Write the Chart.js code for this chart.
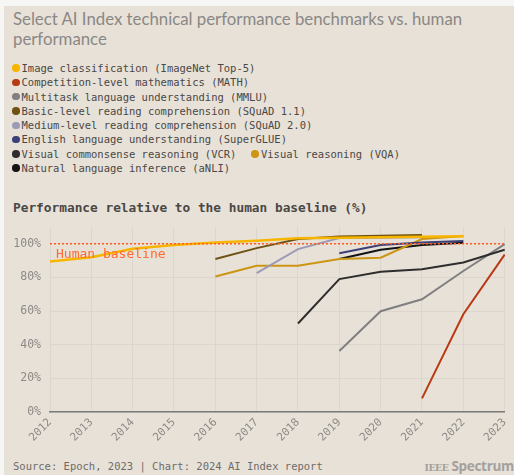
<!DOCTYPE html>
<html>
<head>
<meta charset="utf-8">
<script src="https://cdn.jsdelivr.net/npm/chart.js@4.4.1/dist/chart.umd.min.js"></script>
<style>
  html, body { margin: 0; padding: 0; background: #f6f6f5; overflow: hidden; }
  #card { position: absolute; left: 4px; top: 6px; width: 510px; height: 469px; background: #e8e1d8; overflow: hidden; }
  #title { position: absolute; left: 9px; top: 3px; width: 490px; font-family: Lato, Inter, sans-serif; font-size: 16.8px; line-height: 19.5px; color: #8a8885; }
  #legend { position: absolute; left: 8px; top: 55px; width: 450px; display: flex; flex-wrap: wrap; column-gap: 15px; row-gap: 0; font-family: "DejaVu Sans Mono", monospace; font-size: 10.5px; line-height: 14.3px; color: #4a4845; }
  .item { display: flex; align-items: center; white-space: nowrap; }
  .dot { width: 7.5px; height: 7.5px; border-radius: 50%; margin-right: 2px; display: inline-block; }
  #sub { position: absolute; left: 9px; top: 194px; font-family: "DejaVu Sans Mono", monospace; font-weight: bold; font-size: 12.8px; color: #4a4845; }
  #chartbox { position: absolute; left: -4px; top: 204.5px; width: 518px; height: 241px; }
  #src { position: absolute; left: 9px; top: 454px; font-family: "DejaVu Sans Mono", monospace; font-size: 10.5px; color: #6e6c69; }
  #logo { position: absolute; right: 0px; top: 451px; color: #a3a09c; white-space: nowrap; }
  #logo .ieee { font-family: "DejaVu Serif", serif; font-weight: bold; font-size: 9.5px; letter-spacing: -0.6px; margin-right: 3px; }
  #logo .spec { font-family: "Open Sans", sans-serif; font-weight: bold; font-size: 13.5px; letter-spacing: -0.3px; }
</style>
</head>
<body>
<div id="card">
  <div id="title">Select AI Index technical performance benchmarks vs. human performance</div>
  <div id="legend"></div>
  <div id="sub">Performance relative to the human baseline (%)</div>
  <div id="chartbox"><canvas id="c" width="518" height="241"></canvas></div>
  <div id="src">Source: Epoch, 2023 | Chart: 2024 AI Index report</div>
  <div id="logo"><span class="ieee">IEEE</span><span class="spec">Spectrum</span></div>
</div>
<script>
const years = ["2012","2013","2014","2015","2016","2017","2018","2019","2020","2021","2022","2023"];
const yTicks = [0, 20, 40, 60, 80, 100];
const humanBaseline = 100;
const baselineLabel = "Human baseline";

const seriesNames = [
  "Image classification (ImageNet Top-5)",
  "Competition-level mathematics (MATH)",
  "Multitask language understanding (MMLU)",
  "Basic-level reading comprehension (SQuAD 1.1)",
  "Medium-level reading comprehension (SQuAD 2.0)",
  "English language understanding (SuperGLUE)",
  "Visual commonsense reasoning (VCR)",
  "Visual reasoning (VQA)",
  "Natural language inference (aNLI)"
];
const seriesColors = ["#f7b500", "#b83a14", "#808080", "#6e5212", "#9b9bb5", "#3c3f78", "#2e2e2e", "#cc9514", "#141414"];

//                2012  2013  2014  2015  2016   2017  2018   2019   2020   2021   2022   2023
const imagenet = [89.5, 92.0, 97.0, 99.3, 100.8, 101.8, 103.2, 103.6, 103.9, 104.2, 104.5, null];
const math     = [null, null, null, null, null,  null,  null,  null,  null,  8.1,   58.1,  93.5];
const mmlu     = [null, null, null, null, null,  null,  null,  36.3,  59.9,  67.0,  83.8,  99.8];
const squad11  = [null, null, null, null, 90.9,  97.4,  102.8, 104.3, 104.8, 105.2, null,  null];
const squad20  = [null, null, null, null, null,  82.5,  96.8,  103.4, 103.6, 103.8, null,  null];
const superglue= [null, null, null, null, null,  null,  null,  94.4,  99.2,  100.8, 101.6, null];
const vcr      = [null, null, null, null, null,  null,  52.6,  79.0,  83.3,  84.9,  88.9,  96.4];
const vqa      = [null, null, null, null, 80.5,  86.9,  86.9,  90.9,  91.7,  102.8, 104.6, null];
const anli     = [null, null, null, null, null,  null,  null,  90.9,  96.4,  99.2,  100.6, null];

const seriesData = [imagenet, math, mmlu, squad11, squad20, superglue, vcr, vqa, anli];

// HTML legend built from the series arrays
const lg = document.getElementById('legend');
seriesNames.forEach((n, i) => {
  const it = document.createElement('span'); it.className = 'item';
  const d = document.createElement('span'); d.className = 'dot'; d.style.background = seriesColors[i];
  it.appendChild(d); it.appendChild(document.createTextNode(n)); lg.appendChild(it);
});

const drawOrder = [1, 2, 6, 8, 7, 5, 4, 3, 0];
const datasets = seriesNames.map((n, i) => ({
  label: n, data: seriesData[i], borderColor: seriesColors[i], backgroundColor: seriesColors[i],
  borderWidth: i === 0 ? 2.5 : 2, pointRadius: 0, tension: 0, spanGaps: false,
  order: drawOrder.length - drawOrder.indexOf(i)
}));
datasets.push({
  label: baselineLabel, data: years.map(() => humanBaseline), borderColor: "#ff5e1f",
  borderWidth: 1.6, borderDash: [2, 2], pointRadius: 0, order: 0
});

const baselineText = {
  id: 'baselineText',
  afterDatasetsDraw(chart) {
    const { ctx, scales } = chart;
    const x = scales.x.getPixelForValue(0) + 6;
    const y = scales.y.getPixelForValue(humanBaseline) + 11;
    ctx.save();
    ctx.font = '13px "DejaVu Sans Mono", monospace';
    ctx.fillStyle = '#ff6a30';
    ctx.textBaseline = 'middle';
    ctx.fillText(baselineLabel, x, y);
    ctx.restore();
  }
};

new Chart(document.getElementById('c'), {
  type: 'line',
  data: { labels: years, datasets },
  options: {
    responsive: false, animation: false,
    layout: { padding: { top: 9, right: 10, left: 0, bottom: 0 } },
    plugins: { legend: { display: false }, tooltip: { enabled: false } },
    scales: {
      x: {
        offset: false,
        grid: { color: '#dcd6ce', lineWidth: 1, drawTicks: false },
        border: { display: true, color: '#7d7b78', width: 1.6 },
        ticks: { color: '#8c8a87', font: { family: '"DejaVu Sans Mono", monospace', size: 11 }, maxRotation: 45, minRotation: 45, padding: 4, autoSkip: false },
        afterFit: s => { s.height = 40; }
      },
      y: {
        min: 0, max: 110,
        grid: { color: '#dcd6ce', lineWidth: 1, drawTicks: false },
        border: { display: false },
        ticks: { stepSize: 20, includeBounds: false, color: '#8c8a87', padding: 9,
          font: { family: '"DejaVu Sans Mono", monospace', size: 11.5 },
          callback: v => yTicks.includes(v) ? v + '%' : null },
        afterFit: s => { s.width = 50; }
      }
    }
  },
  plugins: [baselineText]
});
</script>
</body>
</html>
